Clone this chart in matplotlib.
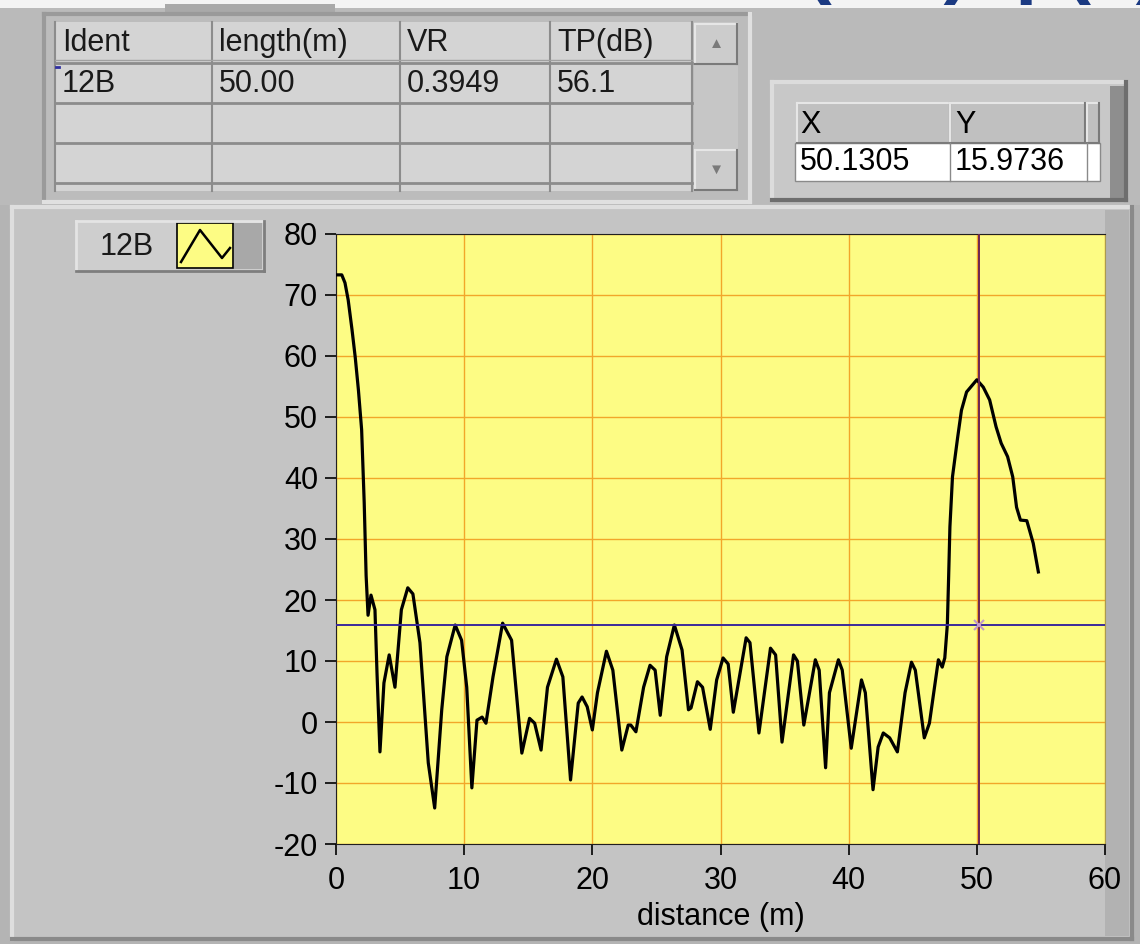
import matplotlib.pyplot as plt
from matplotlib.patches import Rectangle

plt.rcParams['font.family'] = ['Liberation Sans', 'DejaVu Sans']
plt.rcParams['axes.unicode_minus'] = False

# TDR trace: distance along the cable [m] and reflected level [dB]
distance = [0.0, 0.45, 0.7, 0.95, 1.25, 1.5, 1.75, 2.0, 2.2, 2.35, 2.5, 2.73, 3.04, 3.2,
            3.43, 3.74, 4.15, 4.6, 5.1, 5.6, 6.0, 6.55, 7.2, 7.7, 8.25, 8.65, 9.3, 9.8,
            10.2, 10.6, 11.0, 11.4, 11.7, 12.25, 13.0, 13.7, 14.5, 15.1, 15.5, 16.0, 16.5,
            17.2, 17.7, 18.3, 18.9, 19.2, 19.6, 20.0, 20.4, 21.1, 21.6, 22.3, 22.8, 23.0,
            23.4, 24.0, 24.5, 24.9, 25.3, 25.8, 26.4, 27.0, 27.5, 27.7, 28.2, 28.6, 29.2,
            29.7, 30.2, 30.6, 31.0, 32.0, 32.3, 33.0, 33.9, 34.3, 34.8, 35.7, 36.0, 36.5,
            37.4, 37.7, 38.2, 38.5, 39.2, 39.5, 40.2, 41.0, 41.3, 41.9, 42.3, 42.7, 43.2,
            43.8, 44.4, 44.9, 45.2, 45.9, 46.3, 47.0, 47.3, 47.5, 47.7, 47.8, 47.9, 48.1,
            48.5, 48.8, 49.2, 50.0, 50.5, 51.0, 51.5, 51.9, 52.4, 52.8, 53.1, 53.4, 53.9,
            54.4, 54.8]
level = [73.3, 73.3, 72.0, 69.2, 64.3, 59.8, 54.4, 47.9, 36.0, 24.0, 17.5, 20.8, 18.4, 8.0,
         -4.9, 6.4, 11.0, 5.7, 18.4, 22.0, 21.0, 13.0, -6.7, -14.1, 2.0, 10.7, 15.9, 13.4,
         5.7, -10.8, 0.3, 0.8, -0.2, 7.4, 16.2, 13.4, -5.1, 0.6, -0.2, -4.6, 5.7,
         10.3, 7.4, -9.5, 3.1, 4.1, 2.5, -1.3, 4.8, 11.6, 8.5, -4.6, -0.5, -0.5,
         -1.6, 5.7, 9.3, 8.5, 1.1, 10.7, 15.9, 11.8, 2.0, 2.3, 6.6, 5.7, -1.2,
         6.9, 10.5, 9.5, 1.6, 13.8, 13.0, -1.8, 12.1, 11.0, -3.3, 11.0, 10.0, -0.5,
         10.2, 8.5, -7.5, 4.8, 10.2, 8.5, -4.3, 6.9, 4.8, -11.1, -4.1, -1.8, -2.6,
         -4.9, 4.8, 9.8, 8.5, -2.6, -0.2, 10.2, 9.0, 10.5, 16.0, 23.8, 32.0, 40.2,
         46.6, 51.1, 54.1, 56.1, 54.9, 52.8, 48.4, 45.7, 43.5, 40.2, 35.2, 33.1, 33.0,
         29.3, 24.6]

# result table
col_names = ['Ident', 'length(m)', 'VR', 'TP(dB)']
row_values = ['12B', '50.00', '0.3949', '56.1']

# cursor readout
cursor_x = 50.1305
cursor_y = 15.9736

W, H = 1140, 944
fig = plt.figure(figsize=(W / 100, H / 100), dpi=100, facecolor='#c0c0c0')

# panel drawn in pixel units
bg = fig.add_axes([0, 0, 1, 1], zorder=0)
bg.set_xlim(0, W)
bg.set_ylim(H, 0)
bg.axis('off')


def box(x, y, w, h, fc, ec='none', lw=0):
    bg.add_patch(Rectangle((x, y), w, h, fc=fc, ec=ec, lw=lw))


def raised(x, y, w, h, fc, light='#e6e6e6', dark='#7a7a7a', lw=2):
    box(x, y, w, h, fc)
    bg.plot([x, x + w], [y, y], color=light, lw=lw)
    bg.plot([x, x], [y, y + h], color=light, lw=lw)
    bg.plot([x, x + w], [y + h, y + h], color=dark, lw=lw)
    bg.plot([x + w, x + w], [y, y + h], color=dark, lw=lw)


# top strip and tab
box(0, 0, W, 8, '#f4f4f4')
box(0, 8, W, 200, '#bababa')
box(165, 4, 170, 9, '#a9a9a9')
fig.text(805 / W, 1.0 + 12 / H, '(     )  p(  )    p', color='#1b3a82', fontsize=58,
         fontweight='bold', va='baseline', ha='left')

# lower panel
box(0, 205, W, H - 205, '#b4b4b4')
raised(12, 207, 1120, 732, '#c4c4c4', light='#dedede', dark='#8a8a8a', lw=3)
box(1105, 210, 24, 726, '#b2b2b2')

# table
raised(44, 14, 706, 188, '#bcbcbc', light='#9a9a9a', dark='#e0e0e0', lw=3)
col_x = [55, 212, 400, 550, 692]
row_y = [22, 63, 103, 143, 183, 191]
box(col_x[0], row_y[0], col_x[-1] - col_x[0], row_y[-1] - row_y[0], '#d4d4d4')
for cx in col_x:
    bg.plot([cx, cx], [row_y[0], row_y[-1]], color='#8c8c8c', lw=1.5)
for ry in row_y[1:-1]:
    bg.plot([col_x[0], col_x[-1]], [ry, ry], color='#8c8c8c', lw=2)
bg.plot([col_x[0], col_x[-1]], [row_y[1] - 3, row_y[1] - 3], color='#a0a0a0', lw=1)
for i, name in enumerate(col_names):
    bg.text(col_x[i] + 7, 43, name, fontsize=22, va='center', ha='left', color='#1a1a1a')
    bg.text(col_x[i] + 7, 84, row_values[i], fontsize=22, va='center', ha='left', color='#1a1a1a')
bg.plot([56, 59], [67, 67], color='#3030a0', lw=2)

# scrollbar
box(694, 22, 44, 169, '#c6c6c6')
raised(695, 24, 42, 40, '#cccccc', lw=1.5)
raised(695, 150, 42, 40, '#cccccc', lw=1.5)
bg.text(716, 44, '\u25b2', fontsize=11, ha='center', va='center', color='#7a7a7a')
bg.text(716, 170, '\u25bc', fontsize=11, ha='center', va='center', color='#7a7a7a')

# cursor readout
raised(772, 82, 354, 118, '#c8c8c8', light='#dcdcdc', dark='#6e6e6e', lw=3)
box(1110, 86, 14, 112, '#8e8e8e')
raised(797, 103, 153, 40, '#c0c0c0', lw=1.5)
raised(950, 103, 135, 40, '#c0c0c0', lw=1.5)
raised(1087, 103, 12, 40, '#c0c0c0', lw=1.5)
box(795, 143, 305, 38, 'white', ec='#8a8a8a', lw=1)
bg.plot([950, 950], [143, 181], color='#8a8a8a', lw=1)
bg.plot([1087, 1087], [143, 181], color='#8a8a8a', lw=1)
bg.text(800, 125, 'X', fontsize=22, va='center', ha='left')
bg.text(955, 125, 'Y', fontsize=22, va='center', ha='left')
bg.text(800, 162, '%.4f' % cursor_x, fontsize=22, va='center', ha='left')
bg.text(955, 162, '%.4f' % cursor_y, fontsize=22, va='center', ha='left')

# plot legend button
raised(76, 221, 188, 50, '#cecece', light='#e4e4e4', dark='#7e7e7e', lw=2)
box(234, 223, 28, 46, '#a8a8a8')
bg.text(100, 247, '12B', fontsize=22, va='center', ha='left', color='#1a1a1a')
box(177, 223, 56, 45, '#fdfc84', ec='black', lw=1.2)
bg.plot([181, 200, 222, 230], [262, 230, 258, 248], color='black', lw=1.8)

# graph
ax = fig.add_axes([336 / W, (H - 844) / H, 769 / W, 610 / H], zorder=1)
ax.set_facecolor('#fdfc84')
ax.set_xlim(0, 60)
ax.set_ylim(-20, 80)
ax.set_xticks(range(0, 61, 10))
ax.set_yticks(range(-20, 81, 10))
ax.grid(True, color='#f2a62a', linewidth=1.0)
ax.set_axisbelow(True)
for s in ['left', 'top', 'bottom']:
    ax.spines[s].set_color('#202020')
ax.spines['right'].set_color('#a89a50')
ax.tick_params(axis='y', direction='out', length=8, width=1.2, pad=5, labelsize=22)
ax.tick_params(axis='x', direction='out', length=8, width=1.2, pad=8, labelsize=22)
ax.set_xlabel('distance (m)', fontsize=22, labelpad=4)

ax.plot(distance, level, color='black', linewidth=2.3, solid_joinstyle='round', zorder=3)

# cursor lines
ax.axhline(cursor_y, color='#3a2a9a', linewidth=1.4, zorder=4)
ax.axvline(cursor_x, color='#6e2450', linewidth=1.4, zorder=4)
ax.plot(cursor_x, cursor_y, 'x', color='#c49ac8', markersize=7, markeredgewidth=1.5, zorder=5)

plt.savefig('out.png', dpi=100, facecolor=fig.get_facecolor())
